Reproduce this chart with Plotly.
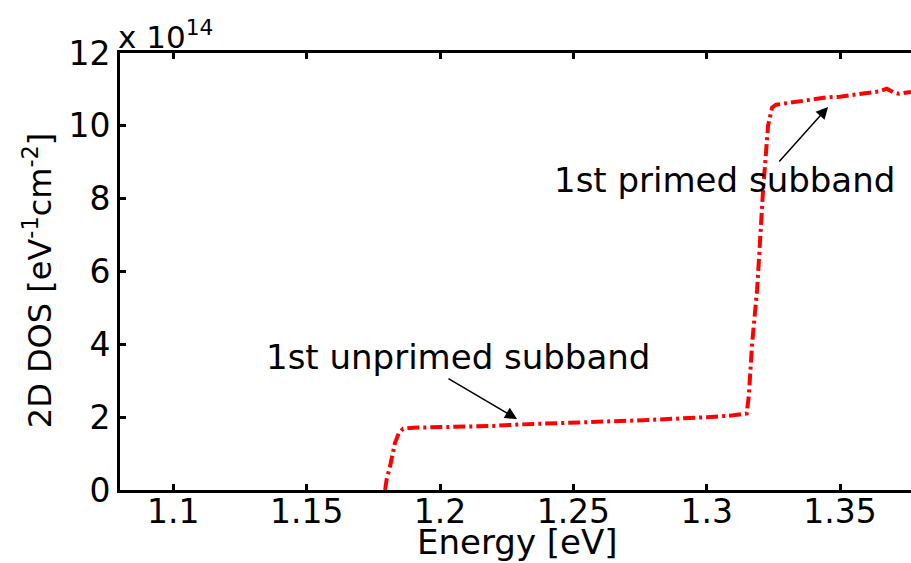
import plotly.graph_objects as go

# Energy [eV] and 2D DOS values (in units of 1e14 eV^-1 cm^-2)
energy = [1.1794, 1.1800, 1.1812, 1.1831, 1.1845, 1.1861, 1.1900, 1.2000, 1.2100,
          1.2200, 1.2300, 1.2400, 1.2500, 1.2600, 1.2700, 1.2800, 1.2900, 1.3000,
          1.3100, 1.3150, 1.3158, 1.3170, 1.3189, 1.3211, 1.3230, 1.3245, 1.3260,
          1.3300, 1.3350, 1.3400, 1.3450, 1.3500, 1.3550, 1.3600, 1.3650, 1.3675,
          1.3700, 1.3720, 1.3766]
dos = [0.0, 0.3, 0.63, 1.29, 1.55, 1.68, 1.71, 1.72, 1.74,
       1.76, 1.80, 1.82, 1.85, 1.87, 1.90, 1.93, 1.96, 2.00,
       2.05, 2.10, 2.6, 4.0, 5.5, 8.2, 10.0, 10.5, 10.58,
       10.62, 10.68, 10.73, 10.78, 10.80, 10.85, 10.88, 10.95, 11.02,
       10.92, 10.88, 10.93]

x_ticks = [1.1, 1.15, 1.2, 1.25, 1.3, 1.35]
x_labels = ["1.1", "1.15", "1.2", "1.25", "1.3", "1.35"]
y_ticks = [0, 2, 4, 6, 8, 10, 12]
y_labels = ["0", "2", "4", "6", "8", "10", "12"]

FONT = "DejaVu Sans"
FS = 32

fig = go.Figure()
fig.add_trace(go.Scatter(x=energy, y=dos, mode="lines",
                         line=dict(color="#ff0000", width=4, dash="12px,4px,3px,4px"),
                         showlegend=False, hoverinfo="skip"))

fig.update_layout(
    width=911, height=563,
    margin=dict(l=120, r=0, t=53, b=73, autoexpand=False),
    paper_bgcolor="white", plot_bgcolor="white",
    font=dict(family=FONT, size=FS, color="black"),
    xaxis=dict(range=[1.08, 1.3766], tickvals=x_ticks, ticktext=x_labels,
               ticks="inside", ticklen=6, tickwidth=3, tickcolor="black",
               showline=True, linewidth=3, linecolor="black", mirror="ticks",
               showgrid=False, zeroline=False, automargin=False,
               ticklabelstandoff=-10,
               tickfont=dict(family=FONT, size=33, color="black")),
    yaxis=dict(range=[0, 12], tickvals=y_ticks, ticktext=y_labels,
               ticks="inside", ticklen=6, tickwidth=3, tickcolor="black",
               showline=True, linewidth=3, linecolor="black", mirror=False,
               showgrid=False, zeroline=False, automargin=False,
               tickfont=dict(family=FONT, size=33, color="black")),
    yaxis2=dict(range=[0, 12], tickvals=y_ticks, overlaying="y", side="right",
                ticks="inside", ticklen=6, tickwidth=3, tickcolor="black",
                showline=False, showgrid=False, zeroline=False, showticklabels=False,
                automargin=False),
)

ann = []
# axis titles
ann.append(dict(text="Energy [eV]", xref="paper", yref="paper", x=0.502, y=-0.118,
                xanchor="center", yanchor="middle", showarrow=False,
                font=dict(family=FONT, size=34, color="black")))
ann.append(dict(text="2D DOS [eV<sup>-1</sup>cm<sup>-2</sup>]", xref="paper", yref="paper",
                x=-0.1037, y=0.48, xanchor="center", yanchor="middle", textangle=-90,
                showarrow=False, font=dict(family=FONT, size=32, color="black")))
# exponent
ann.append(dict(text="x 10<sup>14</sup>", xref="paper", yref="paper", x=-0.005, y=1.0,
                xanchor="left", yanchor="bottom", yshift=-4, showarrow=False,
                font=dict(family=FONT, size=31, color="black")))
# labels
ann.append(dict(text="1st unprimed subband", xref="x", yref="y", x=1.2067, y=3.65,
                xanchor="center", yanchor="middle", showarrow=False,
                font=dict(family=FONT, size=34, color="black")))
ann.append(dict(text="1st primed subband", xref="x", yref="y", x=1.3068, y=8.51,
                xanchor="center", yanchor="middle", showarrow=False,
                font=dict(family=FONT, size=34, color="black")))
# arrows
ann.append(dict(text="", xref="x", yref="y", x=1.2289, y=1.95, axref="x", ayref="y",
                ax=1.2026, ay=3.08, showarrow=True, arrowhead=2, arrowsize=1.6,
                arrowwidth=1.5, arrowcolor="black", standoff=0))
ann.append(dict(text="", xref="x", yref="y", x=1.3455, y=10.52, axref="x", ayref="y",
                ax=1.3267, ay=8.98, showarrow=True, arrowhead=2, arrowsize=1.6,
                arrowwidth=1.5, arrowcolor="black", standoff=0))
fig.update_layout(annotations=ann)

fig.write_html("out.html", config={"displayModeBar": False},
               post_script="document.body.style.margin='0';document.body.style.padding='0';")
